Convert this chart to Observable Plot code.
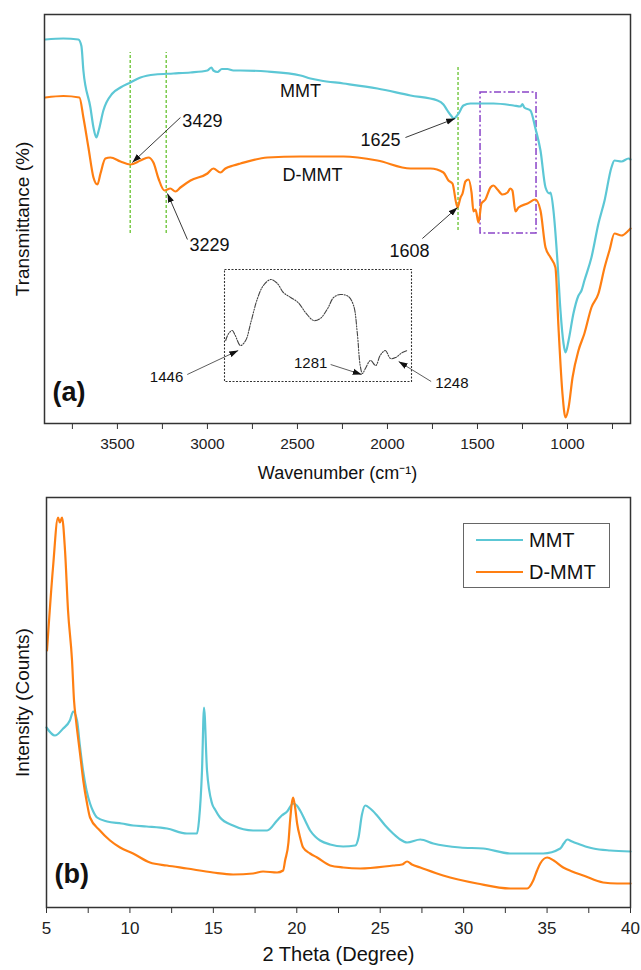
<!DOCTYPE html>
<html>
<head>
<meta charset="utf-8">
<script src="https://cdn.jsdelivr.net/npm/d3@7"></script>
<script src="https://cdn.jsdelivr.net/npm/@observablehq/plot@0.6"></script>
<style>
  html, body { margin: 0; padding: 0; background: #fff; }
  #wrap { position: relative; width: 641px; height: 970px; overflow: hidden; font-family: 'Liberation Sans', Arial, Helvetica, sans-serif; }
  #wrap svg { position: absolute; }
  #legend { position: absolute; left: 463px; top: 523px; width: 145px; height: 63px; border: 1px solid #666; background: #fff; }
  #legend .row { position: absolute; left: 0; height: 24px; width: 145px; }
  #legend .sw { position: absolute; left: 12px; width: 47px; height: 2px; top: 11px; }
  #legend .lb { position: absolute; left: 65px; top: 0; font-size: 20px; line-height: 24px; color: #111; white-space: nowrap; }
</style>
</head>
<body>
<div id="wrap"></div>
<script>
// ---------------- DATA ----------------
const seriesNames = ["MMT", "D-MMT"];
const seriesColors = ["#5cc7d5", "#ff7f12"];

// FTIR (panel a): [wavenumber cm-1, transmittance (a.u.)]
const ftirMMT = [[3900,76.8],[3800,77.0],[3717,76.8],[3700,75.5],[3689,70.6],[3650,63.2],[3633,59.2],[3617,57.2],[3604,58.6],[3578,62.6],[3528,66.0],[3483,67.2],[3428,68.2],[3372,69.2],[3289,69.8],[3189,70.0],[3094,70.2],[3000,70.6],[2978,71.2],[2967,70.6],[2944,70.3],[2920,70.9],[2889,70.9],[2856,70.6],[2817,70.6],[2667,70.4],[2483,69.6],[2428,69.0],[2372,68.6],[2244,68.0],[2056,67.0],[1872,65.6],[1722,64.6],[1689,63.8],[1667,62.6],[1645,61.5],[1633,61.0],[1605,62.0],[1578,63.6],[1539,64.0],[1411,64.0],[1300,63.6],[1261,63.4],[1250,63.9],[1240,63.2],[1206,62.6],[1178,59.0],[1150,54.6],[1122,47.2],[1100,46.0],[1094,46.2],[1078,42.6],[1056,32.6],[1039,22.6],[1022,16.0],[1011,14.2],[994,16.6],[967,22.0],[940,25.5],[922,26.6],[906,28.6],[867,33.2],[828,40.0],[794,44.6],[756,51.2],[739,52.6],[700,52.4],[661,53.0],[650,52.8]];
const ftirDMMT = [[3900,65.2],[3800,65.5],[3711,65.2],[3689,61.2],[3661,55.2],[3633,49.2],[3611,47.8],[3594,50.0],[3567,53.0],[3539,53.2],[3483,52.4],[3428,51.8],[3372,52.6],[3328,53.2],[3300,52.2],[3272,49.0],[3239,46.6],[3206,47.0],[3178,46.4],[3150,47.2],[3094,48.6],[3000,50.0],[2967,51.0],[2928,50.2],[2900,51.0],[2856,51.6],[2817,52.0],[2667,53.2],[2483,53.4],[2317,53.4],[2244,53.4],[2056,52.6],[1872,51.0],[1761,51.0],[1689,50.2],[1661,48.6],[1639,48.0],[1611,43.2],[1594,45.2],[1583,46.0],[1567,48.4],[1550,48.8],[1533,46.2],[1522,42.4],[1511,42.8],[1494,40.2],[1478,44.0],[1456,44.8],[1428,47.2],[1411,47.6],[1389,46.8],[1361,45.8],[1333,46.2],[1317,47.0],[1306,46.6],[1289,42.4],[1272,43.2],[1222,44.0],[1178,44.8],[1150,42.6],[1122,35.2],[1094,33.2],[1067,31.2],[1050,19.2],[1028,6.0],[1011,1.2],[994,3.2],[972,9.2],[939,14.6],[906,18.0],[867,23.2],[828,26.0],[794,31.2],[767,34.6],[739,38.0],[700,37.6],[661,38.6],[650,39.0]];

// Inset: magnified D-MMT 1470-1215 cm-1 [wavenumber, a.u.]
const insetDMMT = [[1466,20.5],[1462,24],[1457,25.5],[1453,23],[1446,18],[1439,20.5],[1432,29.5],[1423,41.5],[1415,48],[1405,51],[1396,49],[1388,44.5],[1378,42],[1368,39.5],[1358,34.5],[1347,30.5],[1338,31.5],[1328,36.5],[1320,42],[1311,43.5],[1300,42.5],[1293,38],[1288,24.5],[1284,8],[1281,4],[1277,6.5],[1270,10.5],[1263,8],[1257,13],[1250,15.5],[1243,11.5],[1236,12],[1227,14.5],[1220,15.5]];

// XRD (panel b): [2 theta deg, intensity (a.u.)]
const xrdMMT = [[5.0,36],[5.5,34.4],[6.0,35.8],[6.4,37.4],[6.6,39.2],[6.83,37.4],[7.0,32.4],[7.19,27.4],[7.4,23.4],[7.61,20.8],[7.8,19.2],[8.03,18],[8.63,17.2],[9.5,16.8],[10.19,16.4],[11.0,16.2],[12.22,15.8],[13.42,14.8],[14.02,14.8],[14.14,17.4],[14.32,27.4],[14.44,40],[14.62,27.4],[14.92,20.8],[15.1,19.6],[15.4,18],[16.18,16.4],[17.38,15.4],[18.22,15.4],[18.82,17.4],[19.1,18.4],[19.42,19.2],[19.78,20.8],[20.0,20.4],[20.2,19.4],[20.5,17.4],[20.8,15.4],[21.1,14.2],[21.4,13.4],[22.0,12.6],[22.78,12.2],[23.5,12.4],[23.7,14],[23.9,18.5],[24.1,20.4],[24.4,19.8],[24.81,18.4],[25.3,16.4],[25.77,14.8],[26.2,13.6],[26.61,13],[27.4,13.6],[28.18,12.8],[29.79,12],[31.17,11.8],[32.79,10.8],[34.77,10.8],[35.79,11.8],[36.0,12.8],[36.21,13.6],[36.5,13.2],[36.81,12.8],[37.3,12.2],[37.77,11.8],[38.78,11.4],[40.0,11.2]];
const xrdDMMT = [[5.03,51.4],[5.39,68],[5.69,78],[5.8,77],[5.93,78],[6.11,71.4],[6.29,59.4],[6.53,49.4],[6.65,41.4],[6.77,37.4],[7.01,30.8],[7.2,25.5],[7.43,20.8],[7.61,18],[8.2,15.4],[8.81,13.4],[9.41,12],[10.19,10.8],[11.2,9],[12.22,8.4],[13.42,7.8],[14.98,7],[16.18,6.6],[17.38,6.8],[17.98,7.2],[18.82,7.0],[19.18,7.4],[19.3,9.4],[19.5,13],[19.6,17.4],[19.78,22],[19.9,20],[20.02,16.8],[20.2,14],[20.38,12],[20.8,10.8],[21.22,10],[22.0,8.4],[22.78,8],[23.8,7.8],[25.77,8.4],[26.3,8.6],[26.61,9.2],[26.9,8.6],[27.4,8],[28.77,6.4],[30.81,4.8],[32.79,3.8],[33.81,3.8],[34.17,5.4],[34.4,7.4],[34.59,8.8],[35.01,10],[35.4,9.4],[35.97,8],[36.5,7.2],[37.17,6.4],[38.36,5],[39.2,4.8],[40.0,4.8]];

// Axis ticks
const ftirTicks = [3750,3500,3250,3000,2750,2500,2250,2000,1750,1500,1250,1000,750];
const xrdTicks = [5,7.5,10,12.5,15,17.5,20,22.5,25,27.5,30,32.5,35,37.5,40];

// Annotations (panel a) in data coordinates
const peakLines = [{wn:3429, top:74.2, bottom:38.0},{wn:3229, top:74.2, bottom:38.0},{wn:1608, top:71.6, bottom:38.6}];
const zoomBox = [{x1:1483, x2:1172, y1:38.0, y2:66.2}];
const peakLabels = [
  {label:"3429", x:3028, y:60.4, ax:3150, ay:61.2, bx:3417, by:52.2},
  {label:"3229", x:2989, y:35.6, ax:3111, ay:36.8, bx:3222, by:46.0},
  {label:"1625", x:2039, y:56.6, ax:1900, ay:57.2, bx:1624, by:61.0},
  {label:"1608", x:1878, y:34.4, ax:1806, ay:37.0, bx:1611, by:43.2}
];
const curveLabels = [{label:"MMT", x:2483, y:66.4},{label:"D-MMT", x:2417, y:49.6}];
const insetLabels = [
  {label:"1446", x:1546, y:2.0, ax:1518, ay:3.5, bx:1449, by:15.5},
  {label:"1281", x:1351, y:9.0, ax:1324, ay:8.5, bx:1282, by:3.5},
  {label:"1248", x:1160, y:-1.0, ax:1188, ay:0.0, bx:1232, by:10.0}
];

// ---------------- DRAW ----------------
const FONT = "'Liberation Sans', Arial, Helvetica, sans-serif";
const toRows = (arr) => arr.map(([x, y]) => ({x, y}));

function triMarker(color, context) {
  const doc = (context && context.document) || document;
  const ns = "http://www.w3.org/2000/svg";
  const m = doc.createElementNS(ns, "marker");
  m.setAttribute("viewBox", "-10 -4 10 8");
  m.setAttribute("markerWidth", "9");
  m.setAttribute("markerHeight", "7.2");
  m.setAttribute("markerUnits", "userSpaceOnUse");
  m.setAttribute("orient", "auto");
  m.setAttribute("refX", "0");
  m.setAttribute("refY", "0");
  const p = doc.createElementNS(ns, "path");
  p.setAttribute("d", "M-10,-3.4L0,0L-10,3.4Z");
  p.setAttribute("fill", "#111");
  p.setAttribute("stroke", "none");
  m.appendChild(p);
  return m;
}

const wrap = document.getElementById("wrap");

// Panel (a)
const panelA = Plot.plot({
  width: 641, height: 490,
  marginLeft: 44, marginRight: 11, marginTop: 14, marginBottom: 67,
  style: {fontFamily: FONT, background: "transparent", color: "#222"},
  x: {domain: [3905, 650]},
  y: {domain: [0, 81.8], axis: null},
  marks: [
    Plot.ruleX(peakLines, {x: "wn", y1: "bottom", y2: "top", stroke: "#66c22e", strokeWidth: 1.3, strokeDasharray: "3,2"}),
    Plot.rect(zoomBox, {x1: "x1", x2: "x2", y1: "y1", y2: "y2", fill: "none", stroke: "#8a44c8", strokeWidth: 1.5, strokeDasharray: "7,2.5,2,2.5"}),
    Plot.line(toRows(ftirMMT), {x: "x", y: "y", curve: "monotone-x", stroke: seriesColors[0], strokeWidth: 2.2}),
    Plot.line(toRows(ftirDMMT), {x: "x", y: "y", curve: "monotone-x", stroke: seriesColors[1], strokeWidth: 2.2}),
    Plot.link(peakLabels, {x1: "ax", y1: "ay", x2: "bx", y2: "by", stroke: "#222", strokeWidth: 0.9, markerEnd: triMarker}),
    Plot.text(peakLabels, {x: "x", y: "y", text: "label", fontSize: 18, fill: "#111"}),
    Plot.text(curveLabels, {x: "x", y: "y", text: "label", fontSize: 18, fill: "#111"}),
    Plot.frame({stroke: "#333", strokeWidth: 1.5}),
    Plot.axisX({ticks: ftirTicks, tickFormat: d => d % 500 === 0 ? String(d) : "", tickSize: 6, tickPadding: 8, fontSize: 15.5, label: null, stroke: "#333"}),
    Plot.text(["Wavenumber (cm\u207B\u00B9)"], {frameAnchor: "bottom", dy: 55, text: d => d, fontSize: 18, fill: "#111"}),
    Plot.text(["Transmittance (%)"], {frameAnchor: "left", dx: -22, rotate: -90, textAnchor: "middle", text: d => d, fontSize: 19, fill: "#111"}),
    Plot.text(["(a)"], {frameAnchor: "bottom-left", dx: 8, dy: -23, textAnchor: "start", text: d => d, fontSize: 27, fontWeight: "bold", fill: "#111"})
  ]
});
panelA.style.left = "0px"; panelA.style.top = "0px";
wrap.appendChild(panelA);

// Inset
const panelInset = Plot.plot({
  width: 340, height: 135,
  marginLeft: 84, marginRight: 69, marginTop: 9, marginBottom: 14,
  style: {fontFamily: FONT, background: "transparent", overflow: "visible"},
  x: {domain: [1467.6, 1214.6], axis: null},
  y: {domain: [0, 56], axis: null},
  marks: [
    Plot.frame({stroke: "#333", strokeWidth: 1.1, strokeDasharray: "2,1.5"}),
    Plot.line(toRows(insetDMMT), {x: "x", y: "y", curve: "catmull-rom", stroke: "#444", strokeWidth: 1.1, strokeDasharray: "5,1.5,1.2,1.5,1.2,1.5"}),
    Plot.link(insetLabels, {x1: "ax", y1: "ay", x2: "bx", y2: "by", stroke: "#333", strokeWidth: 0.8, markerEnd: triMarker}),
    Plot.text(insetLabels, {x: "x", y: "y", text: "label", fontSize: 15, fill: "#111"})
  ]
});
panelInset.style.left = "140px"; panelInset.style.top = "260px";
wrap.appendChild(panelInset);

// Panel (b)
const panelB = Plot.plot({
  width: 641, height: 480,
  marginLeft: 46, marginRight: 11, marginTop: 7, marginBottom: 63,
  style: {fontFamily: FONT, background: "transparent", color: "#222"},
  x: {domain: [5, 40]},
  y: {domain: [0, 82], axis: null},
  marks: [
    Plot.line(toRows(xrdMMT), {x: "x", y: "y", curve: "monotone-x", stroke: seriesColors[0], strokeWidth: 2.2}),
    Plot.line(toRows(xrdDMMT), {x: "x", y: "y", curve: "monotone-x", stroke: seriesColors[1], strokeWidth: 2.2}),
    Plot.frame({stroke: "#333", strokeWidth: 1.5}),
    Plot.axisX({ticks: xrdTicks, tickFormat: d => d % 5 === 0 ? String(d) : "", tickSize: 6, tickPadding: 8, fontSize: 17, label: null, stroke: "#333"}),
    Plot.text(["2 Theta (Degree)"], {frameAnchor: "bottom", dy: 53, text: d => d, fontSize: 20, fill: "#111"}),
    Plot.text(["Intensity (Counts)"], {frameAnchor: "left", dx: -24, rotate: -90, textAnchor: "middle", text: d => d, fontSize: 19, fill: "#111"}),
    Plot.text(["(b)"], {frameAnchor: "bottom-left", dx: 8, dy: -25, textAnchor: "start", text: d => d, fontSize: 27, fontWeight: "bold", fill: "#111"})
  ]
});
panelB.style.left = "0px"; panelB.style.top = "490px";
wrap.appendChild(panelB);

// Legend
const legend = document.createElement("div");
legend.id = "legend";
seriesNames.forEach((name, i) => {
  const row = document.createElement("div");
  row.className = "row";
  row.style.top = (4 + i * 32) + "px";
  const sw = document.createElement("div");
  sw.className = "sw";
  sw.style.background = seriesColors[i];
  const lb = document.createElement("div");
  lb.className = "lb";
  lb.textContent = name;
  row.appendChild(sw); row.appendChild(lb);
  legend.appendChild(row);
});
wrap.appendChild(legend);
</script>
</body>
</html>
